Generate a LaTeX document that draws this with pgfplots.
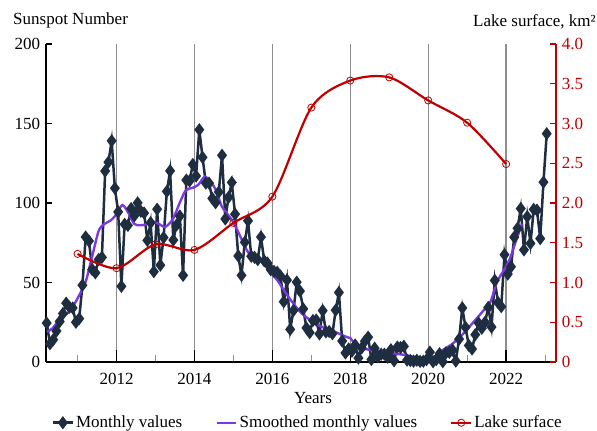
\documentclass[border=0pt]{standalone}
\usepackage{fontspec}
\setmainfont{Liberation Serif}
\usepackage{pgfplots}
\pgfplotsset{compat=1.18}

\definecolor{navy}{HTML}{1E2D40}
\definecolor{smoothviolet}{HTML}{7B3AE0}
\definecolor{lakered}{HTML}{C00000}
\definecolor{gridgray}{HTML}{8E8E8E}

\pgfplotsset{
  base/.style={
    scale only axis, width=510pt, height=318pt,
    xmin=2010.19, xmax=2023.28,
    /pgf/number format/assume math mode=true,
    /pgf/number format/1000 sep={},
    axis line style={-},
    every outer x axis line/.append style={-},
    every outer y axis line/.append style={-},
  },
}

\begin{document}
\fontsize{17}{20}\selectfont
\begin{tikzpicture}
\useasboundingbox (-46pt,-69pt) rectangle (551pt,362pt);

% x axis, grid, years
\begin{axis}[base,
  ymin=0, ymax=200,
  axis y line=none, axis x line*=bottom,
  axis line style={black, line width=1.2pt},
  xtick={2012,2014,...,2022},
  minor xtick={2011,2013,...,2023},
  xmajorgrids,
  major grid style={gridgray, line width=1.3pt},
  tick align=inside,
  major tick length=12pt, minor tick length=7pt,
  major tick style={black, line width=1.3pt},
  minor tick style={gridgray, line width=1pt},
  xticklabel style={yshift=-5pt},
  xlabel={Years},
  every axis x label/.style={at={(axis description cs:0.5235,-0.113)}, anchor=center},
]
\end{axis}

% sunspot numbers
\begin{axis}[base,
  ymin=0, ymax=200,
  axis x line=none, axis y line*=left,
  axis line style={black, line width=1.2pt},
  ytick={0,50,100,150,200},
  tick align=inside, major tick length=6pt,
  tick style={black, line width=1.2pt},
  ylabel={Sunspot Number},
  every axis y label/.style={at={(axis description cs:-0.0647,1.073)}, anchor=west, inner sep=0pt},
]
\addplot[navy, line width=2.5pt, mark=diamond*, mark size=4.6pt, mark options={solid}] table {
x y
2010.208 24.5
2010.292 11.5
2010.375 14.0
2010.458 19.5
2010.542 25.5
2010.625 30.5
2010.708 37.0
2010.792 34.5
2010.875 34.0
2010.958 25.0
2011.042 27.3
2011.125 48.3
2011.208 78.6
2011.292 76.1
2011.375 58.2
2011.458 56.1
2011.542 64.5
2011.625 65.8
2011.708 120.1
2011.792 125.7
2011.875 139.1
2011.958 109.3
2012.042 94.4
2012.125 47.6
2012.208 86.6
2012.292 85.9
2012.375 96.5
2012.458 92.0
2012.542 100.1
2012.625 94.8
2012.708 93.7
2012.792 76.5
2012.875 87.6
2012.958 56.8
2013.042 96.1
2013.125 60.9
2013.208 78.3
2013.292 107.3
2013.375 120.2
2013.458 76.7
2013.542 86.2
2013.625 91.8
2013.708 54.5
2013.792 114.4
2013.875 113.9
2013.958 124.2
2014.042 117.0
2014.125 146.1
2014.208 128.7
2014.292 112.5
2014.375 112.5
2014.458 102.9
2014.542 100.2
2014.625 106.9
2014.708 130.0
2014.792 90.0
2014.875 103.6
2014.958 112.9
2015.042 93.0
2015.125 66.7
2015.208 54.5
2015.292 75.3
2015.375 88.8
2015.458 66.5
2015.542 65.8
2015.625 64.4
2015.708 78.6
2015.792 63.6
2015.875 62.2
2015.958 58.0
2016.042 57.0
2016.125 56.4
2016.208 54.1
2016.292 37.9
2016.375 51.5
2016.458 20.5
2016.542 32.4
2016.625 50.2
2016.708 44.6
2016.792 33.4
2016.875 21.4
2016.958 18.5
2017.042 26.1
2017.125 26.4
2017.208 17.7
2017.292 32.3
2017.375 18.9
2017.458 19.2
2017.542 17.8
2017.625 32.6
2017.708 43.7
2017.792 13.2
2017.875 5.7
2017.958 8.2
2018.042 6.8
2018.125 10.7
2018.208 2.5
2018.292 8.9
2018.375 13.1
2018.458 15.6
2018.542 1.6
2018.625 8.7
2018.708 3.3
2018.792 4.9
2018.875 4.9
2018.958 3.1
2019.042 7.7
2019.125 0.8
2019.208 9.4
2019.292 9.1
2019.375 9.9
2019.458 1.2
2019.542 0.9
2019.625 0.5
2019.708 1.1
2019.792 0.4
2019.875 0.5
2019.958 1.5
2020.042 6.2
2020.125 0.2
2020.208 1.5
2020.292 5.2
2020.375 0.2
2020.458 5.8
2020.542 6.1
2020.625 7.5
2020.708 0.6
2020.792 14.4
2020.875 34.0
2020.958 21.8
2021.042 10.4
2021.125 8.2
2021.208 17.2
2021.292 24.5
2021.375 21.2
2021.458 25.0
2021.542 34.3
2021.625 22.0
2021.708 51.3
2021.792 37.4
2021.875 34.8
2021.958 67.5
2022.042 55.3
2022.125 59.9
2022.208 78.5
2022.292 84.1
2022.375 96.5
2022.458 70.5
2022.542 91.4
2022.625 74.6
2022.708 96.0
2022.792 95.5
2022.875 77.6
2022.958 113.1
2023.042 143.6
};
\addplot[smoothviolet, line width=2.4pt, smooth, no marks] table {
x y
2010.21 19
2010.35 21
2010.55 27
2010.80 32
2011.00 40
2011.20 50
2011.30 59
2011.42 71
2011.55 83
2011.70 87
2011.85 89
2012.00 93
2012.15 98.7
2012.30 94
2012.45 87
2012.60 86
2012.75 86.5
2012.90 88.5
2013.08 87
2013.25 85
2013.45 90
2013.62 100
2013.78 108
2013.95 109.5
2014.10 111.5
2014.26 116.5
2014.40 114
2014.55 108
2014.70 98
2014.85 93
2014.97 89
2015.10 83
2015.22 76.7
2015.40 68.3
2015.65 65.5
2015.90 58
2016.14 51
2016.30 45
2016.50 38
2016.75 30.6
2017.00 26
2017.26 22.2
2017.60 19
2017.90 15.8
2018.00 15
2018.15 10.5
2018.30 8.6
2018.80 6.5
2019.40 4.4
2019.80 2.3
2019.95 2.0
2020.15 3.3
2020.40 8
2020.58 10.7
2020.83 16
2021.17 25.3
2021.43 32.7
2021.60 38
2021.77 50.5
2021.95 58
2022.10 65.2
2022.25 76
2022.41 87
};
\end{axis}

% lake surface
\begin{axis}[base,
  ymin=0, ymax=4,
  axis x line=none, axis y line*=right,
  axis line style={lakered, line width=1.2pt},
  ytick={0,0.5,1,1.5,2,2.5,3,3.5,4},
  yticklabels={0,0.5,1.0,1.5,2.0,2.5,3.0,3.5,4.0},
  yticklabel style={lakered},
  tick align=inside, major tick length=6pt,
  tick style={lakered, line width=1.2pt},
  ylabel={Lake surface, km²},
  every axis y label/.style={at={(axis description cs:1.0784,1.070)}, anchor=east, inner sep=0pt},
  legend style={at={(axis description cs:0.513,-0.191)}, anchor=center, draw=none, fill=none,
    legend columns=3, /tikz/every even column/.append style={column sep=31pt}},
  legend image code/.code={\draw[mark repeat=2,mark phase=2] plot coordinates {(0cm,0cm) (0.35cm,0cm) (0.7cm,0cm)};},
]
\addlegendimage{navy, line width=2.5pt, mark=diamond*, mark size=4.6pt, mark options={solid}}
\addlegendentry{Monthly values}
\addlegendimage{smoothviolet, line width=2.4pt, no marks}
\addlegendentry{Smoothed monthly values}
\addplot[lakered, line width=2.2pt, smooth, mark=o, mark size=3.6pt, mark options={line width=0.8pt, solid}] coordinates {
(2011,1.36) (2012,1.18) (2013,1.48) (2014,1.41) (2015,1.75) (2016,2.08)
(2017,3.20) (2018,3.54) (2019,3.58) (2020,3.29) (2021,3.01) (2022,2.49)
};
\addlegendentry{Lake surface}
\end{axis}
\end{tikzpicture}
\end{document}
